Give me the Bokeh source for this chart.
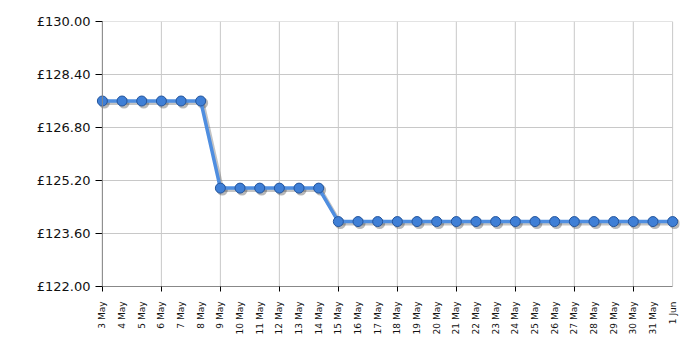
import math
from bokeh.plotting import figure
from bokeh.models import FixedTicker, ColumnDataSource, Range1d, LinearAxis, Span
from bokeh.transform import dodge
from bokeh.embed import file_html
from bokeh.resources import INLINE

dates = ["3 May", "4 May", "5 May", "6 May", "7 May", "8 May", "9 May", "10 May",
         "11 May", "12 May", "13 May", "14 May", "15 May", "16 May", "17 May",
         "18 May", "19 May", "20 May", "21 May", "22 May", "23 May", "24 May",
         "25 May", "26 May", "27 May", "28 May", "29 May", "30 May", "31 May", "1 Jun"]
prices = [127.6] * 6 + [124.97] * 6 + [123.96] * 18
y_ticks = [122.0, 123.6, 125.2, 126.8, 128.4, 130.0]
y_tick_labels = ["£122.00", "£123.60", "£125.20", "£126.80", "£128.40", "£130.00"]

xs = list(range(len(dates)))
x_first, x_last = xs[0], xs[-1]
src = ColumnDataSource(dict(x=xs, y=prices))

PAD = 0.35
p = figure(width=700, height=350, output_backend="svg", toolbar_location=None,
           x_range=Range1d(x_first - PAD, x_last + PAD), y_range=Range1d(y_ticks[0], y_ticks[-1]),
           x_axis_location=None, y_axis_location=None,
           min_border_left=95, min_border_right=21, min_border_top=21, min_border_bottom=64)
p.background_fill_color = "white"
p.border_fill_color = "white"
p.outline_line_color = None
p.xgrid.visible = False
p.ygrid.visible = False

FONT = "DejaVu Sans"
GRID = "#c8c8c8"

# grid lines drawn from tick arrays, limited to the data extent
vx = xs[::3] + [x_last]
p.segment(x0=vx, x1=vx, y0=[y_ticks[0]] * len(vx), y1=[y_ticks[-1]] * len(vx),
          line_color=GRID, line_width=1)
p.segment(x0=[x_first] * len(y_ticks), x1=[x_last] * len(y_ticks), y0=y_ticks, y1=y_ticks,
          line_color=GRID, line_width=1)
# y axis line at the first date
p.add_layout(Span(location=x_first, dimension="height", line_color="#888888", line_width=1))

# y axis (labels + ticks reaching in to the axis line)
yax = LinearAxis()
yax.ticker = FixedTicker(ticks=y_ticks, minor_ticks=[])
yax.major_label_overrides = {t: l for t, l in zip(y_ticks, y_tick_labels)}
yax.major_label_text_font = FONT
yax.major_label_text_font_size = "13px"
yax.major_label_text_color = "#111111"
yax.major_tick_out = 0
yax.major_tick_in = 7
yax.major_tick_line_color = "black"
yax.axis_line_color = None
yax.major_label_standoff = 5
p.add_layout(yax, "left")

# x axis
xax = LinearAxis(bounds=(x_first, x_last))
xax.ticker = FixedTicker(ticks=xs, minor_ticks=xs[::3])
xax.major_label_overrides = {i: d for i, d in enumerate(dates)}
xax.major_label_orientation = math.pi / 2
xax.major_label_text_font = FONT
xax.major_label_text_font_size = "9px"
xax.major_label_text_color = "#111111"
xax.major_tick_line_color = None
xax.major_tick_out = 0
xax.major_tick_in = 0
xax.minor_tick_out = 5
xax.minor_tick_in = 0
xax.minor_tick_line_color = "black"
xax.axis_line_color = "#888888"
xax.major_label_standoff = 10
p.add_layout(xax, "below")

# shadow
p.line(x=dodge("x", 0.1, range=p.x_range), y=dodge("y", -0.06, range=p.y_range), source=src,
       line_color="#555555", line_alpha=0.35, line_width=4)
p.scatter(x=dodge("x", 0.1, range=p.x_range), y=dodge("y", -0.06, range=p.y_range), source=src,
          size=11, fill_color="#333333", fill_alpha=0.35, line_color=None)
# main line
p.line(x="x", y="y", source=src, line_color="#4f8ee0", line_width=3.5)
p.scatter(x="x", y="y", source=src, size=10, fill_color="#3f7fd6",
          line_color="#24559c", line_width=1)

open("out.html", "w").write(file_html(p, INLINE))
